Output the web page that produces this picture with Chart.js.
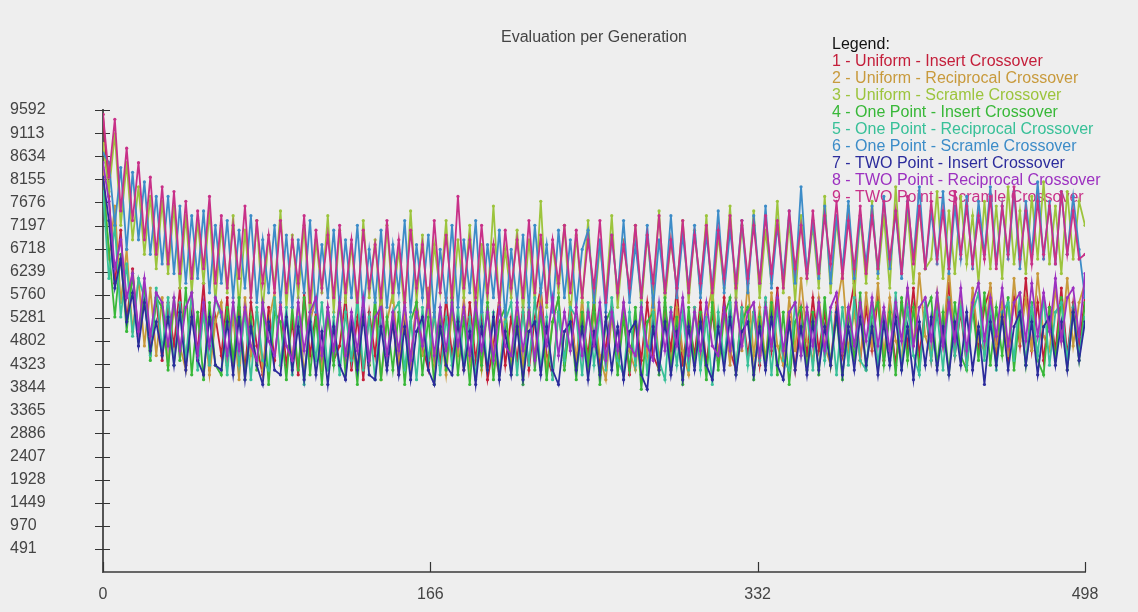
<!DOCTYPE html>
<html>
<head>
<meta charset="utf-8">
<title>Evaluation per Generation</title>
<script src="https://cdn.jsdelivr.net/npm/chart.js@4.4.1/dist/chart.umd.min.js"></script>
<style>
  html, body { margin: 0; padding: 0; background: #eeeeee; }
  #wrap { width: 1138px; height: 612px; }
</style>
</head>
<body>
<div id="wrap"><canvas id="chart" width="1138" height="612"></canvas></div>
<script>
// one sample every 3 generations, 0 .. 498
const genStep = 3;

const xTicks = [0, 166, 332, 498];
const yTicks = [491, 970, 1449, 1928, 2407, 2886, 3365, 3844, 4323, 4802,
  5281, 5760, 6239, 6718, 7197, 7676, 8155, 8634, 9113, 9592];

const seriesNames = [
  "1 - Uniform - Insert Crossover",
  "2 - Uniform - Reciprocal Crossover",
  "3 - Uniform - Scramle Crossover",
  "4 - One Point - Insert Crossover",
  "5 - One Point - Reciprocal Crossover",
  "6 - One Point - Scramle Crossover",
  "7 - TWO Point - Insert Crossover",
  "8 - TWO Point - Reciprocal Crossover",
  "9 - TWO Point - Scramle Crossover"
];
const seriesColors = ["#c41e3a", "#c89a3c", "#9cc43c", "#38b838", "#38c098",
  "#3c8cc8", "#2c2c9c", "#9c30c0", "#c83088"];

const uniformInsert = [
  9500, 7800, 6000, 7100, 5200, 6300, 4900, 5900, 4600, 5700,
  4400, 5600, 4700, 5900, 4300, 5400, 4600, 6000, 4200, 5300,
  4500, 5700, 4300, 5500, 4200, 5600, 4700, 4100, 5500, 4400,
  5600, 4300, 5200, 4100, 5800, 4500, 5400, 4200, 5500, 4400,
  4700, 5700, 4200, 5300, 4000, 5400, 4500, 5800, 4300, 5200,
  4100, 5500, 4400, 5600, 4700, 4200, 5400, 4300, 5700, 4500,
  5300, 4200, 5600, 4400, 5400, 4000, 4700, 5700, 4300, 5300,
  4400, 5500, 4200, 5300, 5900, 4500, 4100, 5400, 4400, 5600,
  4300, 5300, 4500, 5700, 4200, 4700, 5500, 4300, 5400, 4100,
  5300, 4400, 5600, 4500, 4200, 5500, 4600, 5900, 4300, 5300,
  4500, 5600, 4300, 5400, 4400, 5700, 4600, 4200, 5500, 4500,
  5400, 4300, 5600, 4600, 5900, 4400, 5300, 4200, 5500, 4500,
  5700, 4600, 5400, 4300, 5600, 4500, 5300, 6000, 4400, 5500,
  4600, 5700, 4400, 5400, 4300, 5600, 4700, 5900, 4500, 5500,
  4400, 5600, 4700, 6000, 4500, 5400, 4300, 5700, 4600, 5500,
  5900, 4500, 5500, 4400, 5700, 4700, 6100, 4600, 5600, 4400,
  5500, 4600, 5900, 4500, 5600, 4700, 5700
];
const uniformReciprocal = [
  8400, 6500, 7600, 5600, 6700, 5000, 6100, 4700, 5900, 4500,
  5700, 4300, 5500, 4700, 4200, 5800, 4400, 5400, 4100, 5200,
  5600, 4300, 5300, 4000, 5700, 4500, 5400, 4200, 5200, 5800,
  4300, 5300, 4400, 5600, 4100, 5200, 5700, 4200, 5300, 4500,
  5700, 4400, 5300, 4200, 5500, 4300, 5400, 4000, 5200, 5800,
  4400, 5300, 4200, 5600, 4500, 5900, 4300, 5200, 4100, 5400,
  4500, 5700, 4300, 5300, 4200, 5500, 4600, 4100, 5400, 4400,
  5500, 4300, 5300, 4500, 5800, 4200, 5200, 5700, 4300, 5300,
  4400, 5700, 4200, 5400, 4500, 4000, 5300, 4400, 5600, 4600,
  4200, 5400, 4500, 5800, 4400, 5300, 4300, 5500, 4600, 4100,
  5500, 4400, 5300, 5900, 4500, 5400, 4300, 5700, 4600, 6000,
  4500, 5500, 4400, 5800, 4700, 4300, 5700, 4600, 6100, 4800,
  4400, 5700, 4700, 4300, 5500, 6200, 4600, 5400, 4400, 5800,
  4700, 6000, 4500, 5700, 4800, 4400, 5900, 4700, 6200, 4900,
  4500, 5800, 4800, 6300, 4700, 5600, 4400, 5900, 4800, 4600,
  6000, 4700, 5600, 4500, 6100, 4800, 5700, 4600, 6200, 4900,
  4600, 5900, 4800, 6100, 4700, 5600, 6000
];
const uniformScramle = [
  8900, 7900, 9100, 7200, 8500, 6900, 8000, 6600, 7800, 6300,
  7700, 6200, 7600, 5900, 7400, 5800, 7300, 6000, 7500, 5600,
  7200, 5800, 7400, 5500, 7100, 5700, 7300, 5400, 7000, 5900,
  7500, 5500, 7000, 5700, 7200, 5300, 6900, 5800, 7400, 5400,
  7100, 5600, 6800, 5400, 7300, 5700, 6900, 5300, 7200, 5600,
  6700, 5400, 7500, 5600, 7000, 5300, 6800, 5800, 7300, 5400,
  6900, 5700, 7200, 5200, 6800, 5600, 7600, 5500, 6700, 5700,
  7100, 5400, 6900, 5600, 7700, 5500, 6800, 5800, 7200, 5300,
  7000, 5600, 7300, 5400, 6800, 5700, 7400, 5500, 6900, 5800,
  7200, 5500, 7000, 5700, 7500, 5600, 6900, 5900, 7300, 5600,
  7100, 5800, 7400, 5500, 7000, 5900, 7600, 5600, 7200, 6000,
  7500, 5700, 7100, 6000, 7700, 5800, 7300, 5600, 7400, 6100,
  7200, 5900, 7800, 5800, 7300, 6200, 7600, 5700, 7400, 6000,
  7700, 6100, 7400, 5900, 8000, 6200, 7500, 6000, 7600, 6300,
  6500, 7900, 6100, 7500, 6200, 7800, 6400, 7400, 6000, 7700,
  6300, 7600, 6100, 8000, 6400, 7500, 6200, 7800, 6500, 8100,
  6400, 7600, 6200, 7900, 6500, 7700, 7200
];
const onePointInsert = [
  8100, 6700, 5300, 6600, 5000, 6200, 4800, 5800, 4400, 5700,
  5500, 4200, 5700, 4400, 5900, 4100, 5400, 4000, 5600, 4300,
  4100, 5500, 4400, 5700, 4000, 5300, 4200, 5600, 3900, 5400,
  5200, 4000, 5500, 4200, 5700, 4100, 5300, 3900, 5400, 4300,
  5600, 4100, 5200, 3900, 5500, 4300, 5700, 4000, 5300, 4200,
  5400, 3900, 5200, 5600, 4100, 5300, 3900, 5500, 4200, 5700,
  4100, 5300, 3900, 5400, 4300, 5600, 4000, 5200, 5500, 4100,
  5300, 3900, 5600, 4200, 5400, 4000, 5200, 5700, 4200, 5300,
  4000, 5400, 4300, 5600, 3900, 5200, 5500, 4100, 5300, 4200,
  5500, 3800, 5200, 5400, 4100, 5700, 4200, 5300, 3900, 5500,
  4300, 5400, 4000, 5600, 4200, 5300, 5700, 4100, 5200, 5500,
  4000, 5300, 4300, 5600, 4100, 5400, 3900, 5200, 5500, 4200,
  5400, 4100, 5700, 4300, 5300, 4000, 5500, 4400, 5800, 4200,
  5300, 5600, 4300, 5400, 4100, 5700, 4400, 5500, 4200, 5400,
  5700, 4300, 5400, 4100, 5600, 4500, 4200, 5500, 4400, 5800,
  4300, 5500, 4500, 5700, 4200, 5400, 4300, 5600, 4400, 4100,
  5500, 4400, 5700, 4200, 5400, 4400, 5600
];
const onePointReciprocal = [
  7900, 6100, 7200, 5300, 6400, 4900, 6100, 5700, 4500, 5900,
  4600, 5700, 4300, 5600, 4400, 5800, 4200, 5400, 4300, 5700,
  5300, 4100, 5600, 4300, 5400, 4000, 5500, 4400, 4200, 5700,
  4300, 5500, 4100, 5300, 3900, 5400, 4400, 5600, 4200, 5300,
  4100, 5400, 4400, 5700, 4200, 5300, 4000, 5500, 4300, 5400,
  5600, 4200, 5300, 4000, 5500, 4400, 5400, 4100, 5300, 4300,
  5500, 4300, 5300, 4000, 5600, 4200, 5400, 4100, 5200, 5600,
  4100, 5400, 4300, 5700, 4200, 5300, 4000, 5400, 4400, 5500,
  5300, 4100, 5600, 4300, 5400, 4200, 5700, 4400, 4100, 5400,
  4300, 5600, 4100, 5400, 4400, 4000, 5500, 4300, 5400, 4200,
  5500, 4200, 5300, 3900, 5400, 4400, 5600, 4200, 5500, 4300,
  5400, 4400, 5700, 4100, 5500, 4400, 4200, 5600, 4500, 5400,
  4200, 5600, 4400, 5400, 4100, 5500, 4300, 5700, 4400, 4200,
  5600, 4300, 5400, 4400, 5800, 4200, 5500, 4500, 4100, 5600,
  4400, 5400, 4200, 5700, 4500, 5500, 4300, 5400, 5800, 4400,
  5500, 4200, 5400, 5600, 4400, 5800, 4300, 5500, 4500, 5700,
  4300, 5400, 5600, 4400, 5500, 4500, 5300
];
const onePointScramle = [
  8700, 8500, 7200, 8400, 6700, 8300, 6900, 8100, 6600, 7800,
  6400, 7800, 6200, 7600, 6000, 7400, 6100, 7500, 5800, 7200,
  6000, 7300, 5700, 7100, 5900, 7400, 5600, 6900, 5800, 7200,
  5600, 7000, 5500, 6900, 5800, 7300, 5400, 6800, 5700, 7100,
  5500, 6900, 5700, 7200, 5400, 6700, 5600, 7100, 5500, 6800,
  5800, 7300, 5400, 6800, 5700, 7000, 5300, 6700, 5600, 7200,
  5500, 6900, 5800, 7300, 5400, 6800, 5700, 7100, 5300, 6700,
  5600, 7000, 5500, 7200, 5800, 6800, 5400, 7100, 5700, 6900,
  5500, 6700, 7100, 5600, 6900, 5400, 7000, 5800, 7300, 5600,
  6800, 5700, 7200, 5500, 6900, 5800, 7400, 5700, 7000, 5900,
  7200, 5700, 7000, 5900, 7500, 5800, 7100, 6000, 7300, 5800,
  7400, 6000, 7600, 5900, 7200, 6100, 7500, 6000, 8000, 6200,
  7300, 6100, 7600, 6000, 7400, 6300, 7700, 6100, 7400, 6400,
  7600, 6200, 7800, 6300, 7500, 6100, 7700, 6500, 8000, 6300,
  7500, 6400, 7900, 6200, 7600, 6500, 7800, 6300, 7700, 6600,
  8000, 6400, 7600, 6500, 7900, 6300, 7700, 6600, 8100, 6500,
  7700, 6400, 7900, 6600, 7800, 6700, 5700
];
const twoPointInsert = [
  8200, 7300, 5900, 6500, 5200, 5800, 4700, 5600, 4600, 5200,
  4500, 5300, 4300, 5400, 4200, 5300, 4400, 4100, 5300, 4300,
  4200, 5200, 4100, 5300, 4000, 5100, 4300, 3900, 5200, 4200,
  4100, 5300, 4200, 5100, 4000, 5200, 4100, 5000, 3900, 5100,
  4300, 4000, 5200, 4200, 5300, 4100, 4000, 5100, 4200, 5200,
  4100, 5100, 4000, 5000, 5300, 4200, 3900, 5100, 4300, 4100,
  5200, 4200, 5000, 3900, 5100, 4200, 5300, 4000, 5000, 4100,
  5100, 4000, 5000, 5200, 4100, 5100, 4200, 3900, 5000, 5200,
  4200, 5100, 4000, 5000, 4100, 5300, 4200, 5100, 4000, 5000,
  5200, 4100, 3800, 5100, 4200, 5200, 4100, 5000, 4000, 5100,
  4200, 5200, 4300, 4000, 5100, 4200, 5300, 4100, 5000, 5200,
  4100, 5100, 4200, 5300, 4300, 4000, 5200, 4200, 5100, 4100,
  5200, 4200, 5100, 4300, 5400, 4100, 5100, 4200, 5300, 4300,
  5100, 4100, 5200, 4300, 5300, 4200, 5100, 4000, 5200, 4300,
  5300, 4200, 5100, 4100, 5200, 4300, 5400, 4200, 5100, 3900,
  5200, 4300, 5300, 4200, 5100, 5400, 4300, 5200, 4100, 5100,
  5300, 4300, 5200, 4200, 5400, 4400, 5200
];
const twoPointReciprocal = [
  8500, 7700, 6300, 6900, 5700, 6200, 5000, 6100, 4900, 5800,
  5600, 4700, 5700, 4600, 5500, 5800, 4500, 5600, 4700, 5700,
  5400, 4500, 5600, 4600, 5500, 4700, 4400, 5600, 4800, 4500,
  5500, 4700, 4400, 5600, 4600, 5400, 5700, 4500, 5500, 4600,
  5600, 4500, 5400, 4600, 5700, 4400, 5300, 5500, 4500, 5400,
  4600, 5600, 4400, 5400, 4700, 5700, 4500, 5500, 4600, 5600,
  4700, 5500, 4500, 5600, 4600, 5400, 4400, 5500, 4700, 4500,
  5600, 4600, 5400, 4400, 5500, 4700, 5700, 4500, 5400, 4600,
  5500, 4500, 5400, 4700, 5600, 4400, 5400, 4600, 5600, 4700,
  4500, 5500, 4700, 4400, 5600, 4600, 5400, 4700, 5700, 4500,
  5400, 4600, 5600, 4700, 4500, 5500, 4600, 5600, 4700, 5400,
  5600, 4500, 5500, 4700, 5700, 4600, 5400, 5600, 4500, 5500,
  4700, 5600, 4600, 5500, 5800, 4600, 5500, 4700, 5600, 4800,
  5700, 4700, 5500, 4600, 5600, 4800, 5900, 4700, 5500, 5700,
  4800, 5800, 4700, 5600, 4800, 5900, 4600, 5600, 6000, 4800,
  5700, 4900, 5900, 4700, 5600, 5800, 4800, 6000, 4900, 5800,
  5000, 6100, 4800, 5700, 5900, 4900, 6200
];
const twoPointScramle = [
  9500, 8200, 9400, 7500, 8800, 7300, 8500, 6900, 8200, 6600,
  8000, 6400, 7900, 6200, 7700, 6100, 7500, 6300, 7800, 6000,
  7400, 5900, 7200, 6100, 7600, 5700, 7300, 6000, 7000, 5800,
  7300, 5800, 6900, 6000, 7400, 5600, 7100, 5900, 7000, 5700,
  7200, 5800, 6900, 5600, 7100, 5900, 6800, 5700, 7300, 5800,
  6900, 5600, 7100, 5900, 6800, 5500, 7300, 5800, 7000, 5700,
  7800, 5900, 6900, 5700, 7200, 5800, 6800, 5600, 7100, 5900,
  6900, 5700, 7300, 5800, 7000, 5600, 6900, 6000, 7200, 5800,
  7100, 5700, 6900, 5900, 7300, 5600, 7000, 5800, 6800, 5900,
  7200, 5700, 7000, 6000, 7400, 5800, 6900, 5900, 7300, 5800,
  7000, 6000, 7200, 5800, 7100, 6100, 7400, 5900, 7300, 6100,
  7200, 6000, 7400, 6200, 7300, 5900, 7500, 6300, 7200, 6100,
  7500, 6200, 7400, 6400, 7700, 6100, 7300, 6300, 7600, 6200,
  7400, 6300, 7700, 6500, 7500, 6200, 7800, 6400, 7600, 6300,
  7700, 6500, 7500, 6300, 7900, 6600, 7600, 6400, 7400, 6500,
  7800, 6300, 7600, 6600, 8000, 6500, 7500, 6400, 7700, 6600,
  7600, 6400, 7900, 6600, 7500, 6500, 6600
];

const seriesValues = [uniformInsert, uniformReciprocal, uniformScramle,
  onePointInsert, onePointReciprocal, onePointScramle,
  twoPointInsert, twoPointReciprocal, twoPointScramle];

const FONT = "'Liberation Sans', Arial, sans-serif";

const datasets = seriesValues.map((vals, i) => ({
  label: seriesNames[i],
  data: vals.map((v, k) => ({ x: k * genStep, y: v })),
  borderColor: seriesColors[i],
  backgroundColor: seriesColors[i],
  borderWidth: 1.8,
  pointRadius: 1.6,
  pointBorderWidth: 0,
  tension: 0,
  fill: false,
  order: 9 - i
}));

// title, text legend and the little tick marks that cross the axes
const decorations = {
  id: "decorations",
  beforeDatasetsDraw(chart) {
    const ctx = chart.ctx;
    ctx.save();
    ctx.font = "16px " + FONT;
    ctx.textBaseline = "middle";
    ctx.textAlign = "center";
    ctx.fillStyle = "#444444";
    ctx.fillText("Evaluation per Generation", 594, 38);

    ctx.textAlign = "left";
    ctx.fillStyle = "#111111";
    ctx.fillText("Legend:", 832, 45);
    seriesNames.forEach((name, i) => {
      ctx.fillStyle = seriesColors[i];
      ctx.fillText(name, 832, 62 + i * 16.9);
    });

    const xs = chart.scales.x, ys = chart.scales.y;
    ctx.strokeStyle = "#333333";
    ctx.lineWidth = 1.2;
    ctx.beginPath();
    yTicks.forEach(v => {
      const py = Math.round(ys.getPixelForValue(v)) + 0.5;
      ctx.moveTo(xs.left - 8, py);
      ctx.lineTo(xs.left + 7, py);
    });
    xTicks.forEach(v => {
      const px = Math.round(xs.getPixelForValue(v)) + 0.5;
      ctx.moveTo(px, ys.bottom);
      ctx.lineTo(px, ys.bottom - 10);
    });
    ctx.stroke();
    ctx.restore();
  }
};

new Chart(document.getElementById("chart"), {
  type: "line",
  data: { datasets },
  options: {
    responsive: false,
    animation: false,
    events: [],
    layout: { padding: { left: 10, right: 53, top: 110, bottom: 10 } },
    plugins: { legend: { display: false }, title: { display: false }, tooltip: { enabled: false } },
    scales: {
      x: {
        type: "linear",
        min: 0,
        max: 498,
        afterBuildTicks: s => { s.ticks = xTicks.map(v => ({ value: v })); },
        afterFit: s => { s.height = 30; },
        grid: { display: false, drawTicks: false },
        border: { display: true, color: "#666666", width: 2 },
        ticks: {
          padding: 13,
          color: "#444444",
          font: { family: FONT, size: 16 },
          callback: v => String(v),
          maxRotation: 0
        }
      },
      y: {
        type: "linear",
        min: 12,
        max: 9592,
        afterBuildTicks: s => { s.ticks = yTicks.map(v => ({ value: v })); },
        afterFit: s => { s.width = 93; },
        grid: { display: false, drawTicks: false },
        border: { display: true, color: "#555555", width: 2 },
        ticks: {
          crossAlign: "far",
          color: "#444444",
          font: { family: FONT, size: 16 },
          callback: v => String(v)
        }
      }
    }
  },
  plugins: [decorations]
});
</script>
</body>
</html>
